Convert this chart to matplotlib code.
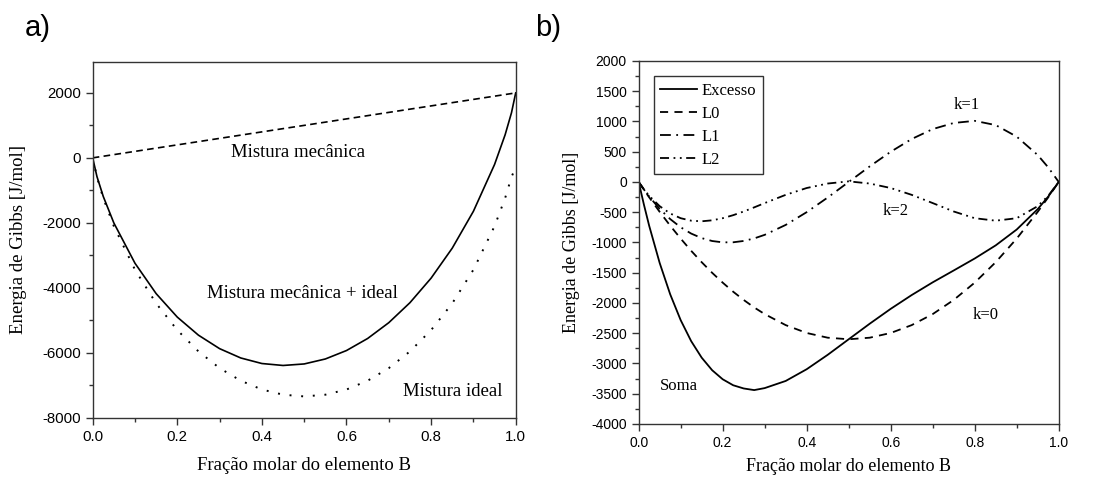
import numpy as np
import matplotlib.pyplot as plt
from matplotlib.ticker import MultipleLocator

# ---- a) mistura mecânica / ideal ----
x_a = [0.0, 0.01, 0.025, 0.05, 0.1, 0.15, 0.2, 0.25, 0.3, 0.35, 0.4, 0.45, 0.5,
       0.55, 0.6, 0.65, 0.7, 0.75, 0.8, 0.85, 0.9, 0.95, 0.975, 0.99, 1.0]
g_mecanica = [0, 20, 50, 100, 200, 300, 400, 500, 600, 700, 800, 900, 1000,
              1100, 1200, 1300, 1400, 1500, 1600, 1700, 1800, 1900, 1950, 1980, 2000]
g_ideal = [0, -593, -1239, -2104, -3445, -4480, -5303, -5959, -6474, -6861, -7132, -7292, -7345,
           -7292, -7132, -6861, -6474, -5959, -5303, -4480, -3445, -2104, -1239, -593, -280]
g_total = [0, -573, -1189, -2004, -3245, -4180, -4903, -5459, -5874, -6161, -6332, -6392, -6345,
           -6192, -5932, -5561, -5074, -4459, -3703, -2780, -1645, -204, 711, 1387, 2000]

# ---- b) termos de Redlich-Kister ----
x_b = [0.0, 0.0125, 0.025, 0.05, 0.075, 0.1, 0.125, 0.15, 0.175, 0.2, 0.225, 0.25, 0.275,
       0.3, 0.35, 0.4, 0.45, 0.5, 0.55, 0.6, 0.65, 0.7, 0.75, 0.8, 0.85, 0.9, 0.95, 0.975, 1.0]
g_L0 = [0, -128, -254, -494, -722, -936, -1138, -1326, -1502, -1664, -1814, -1950, -2074,
        -2184, -2366, -2496, -2574, -2600, -2574, -2496, -2366, -2184, -1950, -1664, -1326,
        -936, -494, -254, 0]
g_L1 = [0, -125, -241, -445, -613, -749, -853, -928, -976, -998, -997, -975, -933,
        -874, -710, -499, -257, 0, 257, 499, 710, 874, 975, 1010, 940,
        749, 445, 241, 0]
g_L2 = [0, -122, -229, -400, -521, -599, -640, -650, -634, -599, -549, -488, -420,
        -349, -213, -100, -26, 10, -26, -100, -213, -349, -488, -599, -640,
        -599, -400, -229, 0]
g_excesso = [0, -375, -724, -1339, -1856, -2284, -2631, -2904, -3112, -3261, -3360, -3413, -3440,
             -3407, -3289, -3095, -2857, -2600, -2343, -2097, -1869, -1659, -1463, -1265, -1048,
             -786, -449, -242, 0]

serif = 'Liberation Serif'
sans = 'Liberation Sans'
plt.rcParams['font.family'] = sans
plt.rcParams['axes.unicode_minus'] = False

fig = plt.figure(figsize=(10.97, 4.83), dpi=100)


def style_axes(ax, tick_size):
    for s in ax.spines.values():
        s.set_color('#333333')
        s.set_linewidth(1.0)
    ax.tick_params(which='both', direction='out', top=False, right=False,
                   color='#333333', labelsize=tick_size)
    ax.tick_params(which='major', length=5, width=1)
    ax.tick_params(which='minor', length=3, width=1)
    ax.xaxis.set_major_locator(MultipleLocator(0.2))
    ax.xaxis.set_minor_locator(MultipleLocator(0.1))
    ax.xaxis.set_major_formatter(plt.FormatStrFormatter('%.1f'))
    ax.set_xlim(0, 1)


# painel a
ax1 = fig.add_axes([0.0845, 0.1352, 0.3856, 0.737])
style_axes(ax1, 10.8)
ax1.plot(x_a, g_mecanica, color='black', lw=1.2, ls=(0, (4, 2.6)))
ax1.plot(x_a, g_total, color='black', lw=1.2)
ax1.plot(x_a, g_ideal, color='black', lw=1.4, ls=(0, (1, 5)))
ax1.set_ylim(-8000, 2960)
ax1.yaxis.set_major_locator(MultipleLocator(2000))
ax1.yaxis.set_minor_locator(MultipleLocator(1000))
ax1.text(0.485, 163, 'Mistura mecânica', family=serif, fontsize=13.5,
         ha='center', va='center')
ax1.text(0.495, -4163, 'Mistura mecânica + ideal', family=serif, fontsize=13.5,
         ha='center', va='center')
ax1.text(0.851, -7190, 'Mistura ideal', family=serif, fontsize=13.5,
         ha='center', va='center')
ax1.set_xlabel('Fração molar do elemento B', family=serif, fontsize=13.5)
ax1.set_ylabel('Energia de Gibbs [J/mol]', family=serif, fontsize=13.5)
ax1.xaxis.set_label_coords(0.5, -0.11)
ax1.yaxis.set_label_coords(-0.155, 0.5)

# painel b
ax2 = fig.add_axes([0.5822, 0.1222, 0.3829, 0.7516])
style_axes(ax2, 10)
ax2.plot(x_b, g_excesso, color='black', lw=1.3, label='Excesso')
ax2.plot(x_b, g_L0, color='black', lw=1.3, ls=(0, (4.5, 3.5)), label='L0')
ax2.plot(x_b, g_L1, color='black', lw=1.3, ls=(0, (6, 3, 1, 3)), label='L1')
ax2.plot(x_b, g_L2, color='black', lw=1.3, ls=(0, (5, 2.5, 1, 2.5, 1, 2.5)), label='L2')
ax2.set_ylim(-4000, 2000)
ax2.yaxis.set_major_locator(MultipleLocator(500))
ax2.yaxis.set_minor_locator(MultipleLocator(250))
ax2.text(0.78, 1267, 'k=1', family=serif, fontsize=12, ha='center', va='center')
ax2.text(0.611, -480, 'k=2', family=serif, fontsize=12, ha='center', va='center')
ax2.text(0.827, -2204, 'k=0', family=serif, fontsize=12, ha='center', va='center')
ax2.text(0.095, -3378, 'Soma', family=serif, fontsize=12, ha='center', va='center')
leg = ax2.legend(loc='upper left', bbox_to_anchor=(0.036, 0.959), prop={'family': serif, 'size': 12},
                 frameon=True, fancybox=False, edgecolor='black', handlelength=2.2,
                 handletextpad=0.25, labelspacing=0.42, borderpad=0.4, borderaxespad=0)
leg.get_frame().set_linewidth(1.0)
ax2.set_xlabel('Fração molar do elemento B', family=serif, fontsize=13)
ax2.set_ylabel('Energia de Gibbs [J/mol]', family=serif, fontsize=13)
ax2.xaxis.set_label_coords(0.5, -0.094)
ax2.yaxis.set_label_coords(-0.14, 0.5)

fig.text(0.0228, 0.97, 'a)', fontsize=21, family=sans, va='top')
fig.text(0.4877, 0.97, 'b)', fontsize=21, family=sans, va='top')

fig.savefig('out.png', dpi=100)
